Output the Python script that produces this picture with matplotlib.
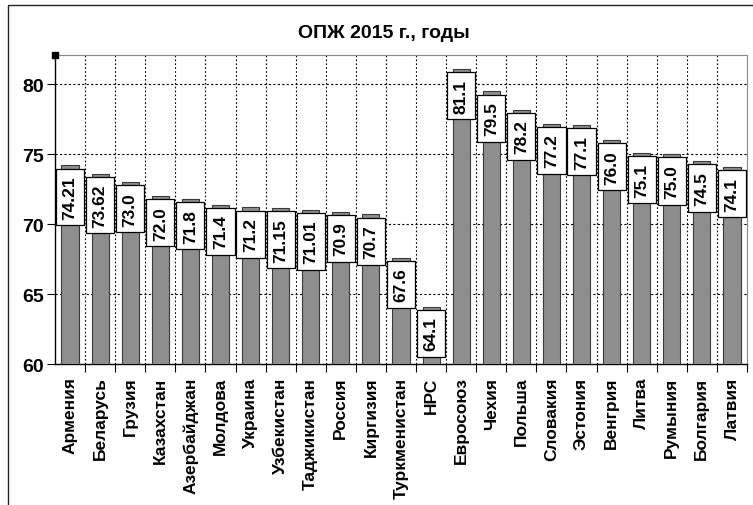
import numpy as np
import matplotlib
matplotlib.use('Agg')
import matplotlib.pyplot as plt
from matplotlib.patches import Rectangle

plt.rcParams['font.family'] = ['Liberation Sans', 'DejaVu Sans']
plt.rcParams['font.weight'] = 'bold'

countries = ['Армения', 'Беларусь', 'Грузия', 'Казахстан', 'Азербайджан',
             'Молдова', 'Украина', 'Узбекистан', 'Таджикистан', 'Россия',
             'Киргизия', 'Туркменистан', 'НРС', 'Евросоюз', 'Чехия', 'Польша',
             'Словакия', 'Эстония', 'Венгрия', 'Литва', 'Румыния', 'Болгария',
             'Латвия']
values = [74.21, 73.62, 73.0, 72.0, 71.8, 71.4, 71.2, 71.15, 71.01, 70.9,
          70.7, 67.6, 64.1, 81.1, 79.5, 78.2, 77.2, 77.1, 76.0, 75.1, 75.0,
          74.5, 74.1]
labels = ['74.21', '73.62', '73.0', '72.0', '71.8', '71.4', '71.2', '71.15',
          '71.01', '70.9', '70.7', '67.6', '64.1', '81.1', '79.5', '78.2',
          '77.2', '77.1', '76.0', '75.1', '75.0', '74.5', '74.1']
yticks = [60, 65, 70, 75, 80]

W, H = 753, 506
fig = plt.figure(figsize=(W / 100, H / 100), dpi=100)
ax = fig.add_axes([55 / W, 1 - 365 / H, (747 - 55) / W, (365 - 56) / H])

x = np.arange(len(values))
ax.bar(x, values, width=0.57, color='#8e8e8e', edgecolor='#3a3a3a',
       linewidth=0.8, zorder=3)

# value labels in white boxes, just under the bar tops
for xi, v, lab in zip(x, values, labels):
    ax.text(xi, v - 0.7, lab, rotation=90, ha='center', va='top',
            fontsize=12.5, fontweight='bold', zorder=5,
            bbox=dict(boxstyle='square,pad=0.38', fc='white', ec='black',
                      lw=0.9))

ax.set_xlim(-0.5, len(values) - 0.5)
ax.set_ylim(60, 82.1)

# grid: horizontal at y ticks, vertical between categories
ax.set_yticks(yticks)
ax.set_yticklabels([str(t) for t in yticks], fontsize=14, fontweight='bold')
ax.yaxis.grid(True, linestyle=(0, (2, 2)), color='black', linewidth=0.8,
              zorder=1)
for b in np.arange(0.5, len(values) - 0.5, 1):
    ax.axvline(b, linestyle=(0, (1.5, 2)), color='black', linewidth=0.8,
               zorder=1)

ax.set_xticks(x)
ax.set_xticklabels(countries, rotation=90, fontsize=12.5, fontweight='bold')
ax.tick_params(axis='x', length=0, pad=9)
ax.set_xticks(np.arange(0.5, len(values), 1), minor=True)
ax.tick_params(axis='x', which='minor', length=6, width=0.8, direction='out')
ax.tick_params(axis='y', length=6, width=0.8, direction='out', pad=2)

for side in ['top', 'right']:
    ax.spines[side].set_color('#888888')
    ax.spines[side].set_linewidth(0.8)
for side in ['left', 'bottom']:
    ax.spines[side].set_color('black')
    ax.spines[side].set_linewidth(1.0)

ax.plot([-0.5], [82.1], marker='s', color='black', markersize=4,
        clip_on=False, zorder=6)

fig.text(384 / W, 1 - 33 / H, 'ОПЖ 2015 г., годы', ha='center', va='center',
         fontsize=14, fontweight='bold')

# outer frame
fig.add_artist(Rectangle((8 / W, -0.1), 1.1, 1.1 - 6 / H,
                         transform=fig.transFigure, fill=False,
                         edgecolor='#222222', linewidth=1.0))

fig.savefig('out.png', dpi=100)
